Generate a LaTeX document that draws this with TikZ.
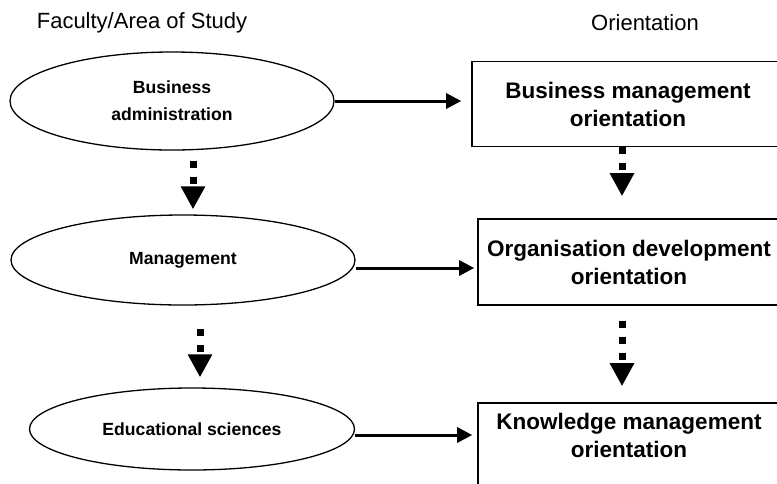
\documentclass[tikz,border=0pt]{standalone}
\usepackage{fontspec}
\setmainfont{Liberation Sans}
\usetikzlibrary{shapes.geometric,arrows.meta}
\begin{document}
\begin{tikzpicture}[x=1pt,y=-1pt,
    faculty/.style={ellipse,draw,line width=1.3pt,inner sep=0pt,align=center,
      font=\fontsize{17.6}{27}\selectfont\bfseries},
    orient/.style={rectangle,draw,line width=1.6pt,inner sep=0pt,align=center,
      font=\fontsize{22.5}{28}\selectfont\bfseries},
    heading/.style={font=\fontsize{22}{26}\selectfont},
    flow/.style={line width=3pt,-{Triangle[length=15pt,width=15pt]}},
    dotflow/.style={line width=7pt,dash pattern=on 7pt off 9pt,
      -{Triangle[length=23pt,width=23pt]}}]
  \useasboundingbox (0,0) rectangle (777,483);
  \clip (0,0) rectangle (777,483);
  % headings
  \node[heading] (h1) at (142,23) {Faculty/Area of Study};
  \node[heading] (h2) at (645,23) {Orientation};
  % left column
  \node[faculty,minimum width=324,minimum height=98] (e1) at (172,101) {Business\\administration};
  \node[faculty,minimum width=344,minimum height=90] (e2) at (183,260) {Management};
  \node[faculty,minimum width=325,minimum height=82] (e3) at (192,429) {Educational sciences};
  % right column
  \node[orient,minimum width=312,minimum height=85] (b1) at (628,104) {Business management\\orientation};
  \node[orient,minimum width=302,minimum height=86] (b2) at (629,262) {Organisation development\\orientation};
  \node[orient,minimum width=302,minimum height=100,
    label={[font=\fontsize{22.5}{28}\selectfont\bfseries,align=center,yshift=18pt]center:Knowledge management\\orientation}] (b3) at (629,453) {};
  % connectors
  \coordinate (a2) at ([yshift=-8pt]e2.east);
  \coordinate (a3) at ([yshift=-6pt]e3.east);
  \draw[flow,shorten >=10pt] (e1.east) -- (e1.east -| b1.west);
  \draw[flow,shorten >=3pt] (a2) -- (a2 -| b2.west);
  \draw[flow,shorten >=5pt] (a3) -- (a3 -| b3.west);
  \draw[dotflow,shorten <=10pt,shorten >=5pt] ([xshift=21pt]e1.south) -- ([xshift=10pt]e2.north);
  \draw[dotflow,shorten <=23pt,shorten >=10pt] ([xshift=17pt]e2.south) -- ([xshift=8pt]e3.north);
  \draw[dotflow,shorten >=22pt] ([xshift=-6pt]b1.south) -- ([xshift=-7pt]b2.north);
  \draw[dotflow,shorten <=15pt,shorten >=16pt] ([xshift=-7pt]b2.south) -- ([xshift=-7pt]b3.north);
\end{tikzpicture}
\end{document}
